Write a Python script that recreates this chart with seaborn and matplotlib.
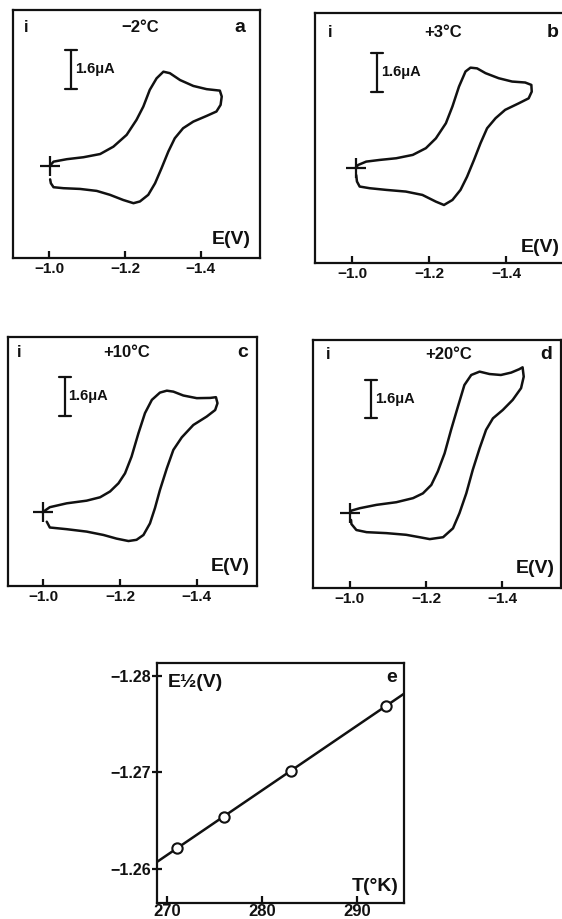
import numpy as np
import pandas as pd
import matplotlib
matplotlib.use("Agg")
import matplotlib.pyplot as plt
import matplotlib.transforms as mtransforms
import seaborn as sns

# ---- cyclic voltammograms: potential E (V) and current i (uA), traced as a closed sweep
E_a = [-1.002, -1.011, -1.046, -1.090, -1.134, -1.169, -1.204, -1.230, -1.248, -1.265,
       -1.283, -1.301, -1.318, -1.345, -1.380, -1.415, -1.450, -1.455, -1.452, -1.441,
       -1.415, -1.380, -1.353, -1.331, -1.314, -1.296, -1.279, -1.261, -1.239, -1.222,
       -1.195, -1.160, -1.125, -1.081, -1.037, -1.011, -1.004, -1.002]
i_a = [0.00, 0.16, 0.26, 0.34, 0.47, 0.77, 1.25, 1.86, 2.40, 3.08,
       3.55, 3.82, 3.76, 3.48, 3.24, 3.11, 3.05, 2.81, 2.47, 2.20,
       2.02, 1.79, 1.52, 1.11, 0.57, -0.11, -0.72, -1.19, -1.46, -1.53,
       -1.40, -1.19, -1.03, -0.95, -0.92, -0.88, -0.72, -0.56]

E_b = [-1.009, -1.015, -1.036, -1.071, -1.114, -1.157, -1.191, -1.217, -1.243, -1.260,
       -1.277, -1.294, -1.307, -1.324, -1.346, -1.380, -1.415, -1.449, -1.465, -1.466,
       -1.458, -1.432, -1.397, -1.372, -1.350, -1.333, -1.316, -1.298, -1.281, -1.260,
       -1.238, -1.217, -1.182, -1.139, -1.088, -1.045, -1.019, -1.012, -1.010]
i_b = [0.00, 0.11, 0.25, 0.32, 0.39, 0.53, 0.81, 1.22, 1.85, 2.55,
       3.38, 4.01, 4.17, 4.14, 3.94, 3.73, 3.59, 3.55, 3.45, 3.17,
       2.89, 2.68, 2.41, 2.06, 1.64, 1.02, 0.32, -0.38, -0.93, -1.35,
       -1.56, -1.42, -1.14, -1.00, -0.93, -0.86, -0.79, -0.58, -0.31]

E_c = [-0.998, -1.017, -1.061, -1.113, -1.148, -1.174, -1.196, -1.213, -1.230, -1.248,
       -1.265, -1.283, -1.304, -1.322, -1.339, -1.365, -1.400, -1.435, -1.450, -1.454,
       -1.448, -1.426, -1.391, -1.361, -1.339, -1.322, -1.304, -1.291, -1.278, -1.261,
       -1.243, -1.222, -1.191, -1.157, -1.113, -1.061, -1.017, -1.009]
i_c = [0.00, 0.21, 0.37, 0.48, 0.62, 0.86, 1.20, 1.61, 2.30, 3.27,
       4.10, 4.65, 4.95, 5.03, 4.99, 4.83, 4.72, 4.73, 4.76, 4.51,
       4.23, 3.96, 3.61, 3.10, 2.58, 1.82, 0.92, 0.17, -0.46, -0.94,
       -1.14, -1.19, -1.09, -0.94, -0.80, -0.70, -0.63, -0.39]

E_d = [-1.000, -1.004, -1.026, -1.070, -1.122, -1.166, -1.192, -1.214, -1.231, -1.249,
       -1.266, -1.284, -1.301, -1.319, -1.341, -1.367, -1.397, -1.424, -1.445, -1.454,
       -1.457, -1.450, -1.428, -1.402, -1.376, -1.358, -1.341, -1.323, -1.306, -1.288,
       -1.271, -1.245, -1.210, -1.183, -1.148, -1.096, -1.044, -1.017, -1.004, -1.003]
i_d = [0.00, 0.11, 0.21, 0.35, 0.46, 0.63, 0.83, 1.18, 1.74, 2.50,
       3.48, 4.45, 5.35, 5.77, 5.91, 5.81, 5.77, 5.87, 6.01, 6.09,
       5.70, 5.22, 4.73, 4.31, 3.96, 3.48, 2.71, 1.81, 0.83, 0.00,
       -0.63, -1.00, -1.08, -1.00, -0.90, -0.83, -0.79, -0.70, -0.45, -0.28]

temps = ["\u22122\u00b0C", "+3\u00b0C", "+10\u00b0C", "+20\u00b0C"]
letters = ["a", "b", "c", "d"]
start_E = [-1.002, -1.009, -0.998, -1.000]
scale_uA = 1.6
scale_top = [4.71, 4.77, 5.59, 5.56]
E_ticks = [-1.0, -1.2, -1.4]

# ---- half-wave potential versus temperature
T_K = [271, 276, 283, 293]
E_half = [-1.2622, -1.2654, -1.2701, -1.2769]
T_ticks = [270, 280, 290]
Eh_ticks = [-1.28, -1.27, -1.26]

sns.set_theme(style="ticks")
plt.rcParams["font.family"] = ["Liberation Sans", "DejaVu Sans"]
plt.rcParams["font.weight"] = "bold"
plt.rcParams["axes.linewidth"] = 1.6
plt.rcParams["axes.edgecolor"] = "#111111"
plt.rcParams["xtick.color"] = "#111111"
plt.rcParams["ytick.color"] = "#111111"

W, H = 562, 919
fig = plt.figure(figsize=(W / 100, H / 100), dpi=100, facecolor="white")


def box(l, t, r, b):
    return [l / W, (H - b) / H, (r - l) / W, (b - t) / H]


ink = "#111111"
cv_boxes = [box(13, 10, 260, 258), box(315, 13, 566, 263),
            box(8, 337, 257, 586), box(313, 340, 561, 588)]
cv_xlims = [(-0.904, -1.556), (-0.903, -1.555), (-0.908, -1.557), (-0.903, -1.555)]
cv_ylims = [(-3.76, 6.33), (-3.98, 6.45), (-3.05, 7.25), (-3.12, 7.23)]
txt_i = [(0.053, 0.93), (0.06, 0.924), (0.044, 0.936), (0.059, 0.94)]
txt_T = [0.514, 0.51, 0.477, 0.548]
txt_L = [0.92, 0.948, 0.942, 0.941]
txt_EV = [(0.885, 0.073), (0.896, 0.06), (0.892, 0.078), (0.895, 0.079)]
bar_x = [0.234, 0.246, 0.229, 0.235]
lab_x = [0.252, 0.263, 0.243, 0.252]

curves = [(E_a, i_a), (E_b, i_b), (E_c, i_c), (E_d, i_d)]
for k in range(4):
    ax = fig.add_axes(cv_boxes[k])
    df = pd.DataFrame({"E": curves[k][0], "i": curves[k][1]})
    sns.lineplot(data=df, x="E", y="i", sort=False, estimator=None, ax=ax,
                 color=ink, lw=1.8)
    ax.plot([start_E[k]], [0], marker="+", ms=14, mew=1.6, color=ink)
    ax.set_xlim(*cv_xlims[k])
    ax.set_ylim(*cv_ylims[k])
    ax.set_xticks(E_ticks)
    ax.set_xticklabels([f"\u2212{abs(v):.1f}" for v in E_ticks],
                       fontsize=11, fontweight="bold")
    ax.set_yticks([])
    ax.tick_params(axis="x", direction="in", length=5, width=1.6, pad=3)
    ax.set_xlabel("")
    ax.set_ylabel("")
    for s in ax.spines.values():
        s.set_visible(True)
    # current scale bar
    tr = mtransforms.blended_transform_factory(ax.transAxes, ax.transData)
    xb = bar_x[k]
    top = scale_top[k]
    bot = top - scale_uA
    ax.plot([xb, xb], [bot, top], transform=tr, color=ink, lw=1.6)
    ax.plot([xb - 0.024, xb + 0.024], [top, top], transform=tr, color=ink, lw=1.6)
    ax.plot([xb - 0.024, xb + 0.024], [bot, bot], transform=tr, color=ink, lw=1.6)
    ax.text(lab_x[k], (top + bot) / 2, "1.6\u03bcA", transform=tr, fontsize=10.5,
            fontweight="bold", ha="left", va="center", color=ink)
    ax.text(*txt_i[k], "i", transform=ax.transAxes, fontsize=12, fontweight="bold",
            ha="center", va="center", color=ink)
    ax.text(txt_T[k], txt_i[k][1], temps[k], transform=ax.transAxes, fontsize=12,
            fontweight="bold", ha="center", va="center", color=ink)
    ax.text(txt_L[k], txt_i[k][1], letters[k], transform=ax.transAxes, fontsize=14,
            fontweight="bold", ha="center", va="center", color=ink)
    ax.text(*txt_EV[k], "E(V)", transform=ax.transAxes, fontsize=14,
            fontweight="bold", ha="center", va="center", color=ink)

# ---- panel e
ax = fig.add_axes(box(157, 663, 404, 903))
ax.set_xlim(268.95, 294.9)
ax.set_ylim(-1.2565, -1.2813)
dfe = pd.DataFrame({"T": T_K, "E": E_half})
sns.regplot(data=dfe, x="T", y="E", ax=ax, ci=None, truncate=False,
            scatter_kws={"s": 55, "facecolors": "white", "edgecolors": ink,
                         "linewidths": 1.5, "zorder": 3, "alpha": 1},
            line_kws={"color": ink, "lw": 1.8, "zorder": 2})
ax.set_xlim(268.95, 294.9)
ax.set_ylim(-1.2565, -1.2813)
ax.set_xticks(T_ticks)
ax.set_xticklabels([str(v) for v in T_ticks], fontsize=12, fontweight="bold")
ax.set_yticks(Eh_ticks)
ax.set_yticklabels([f"\u2212{abs(v):.2f}" for v in Eh_ticks], fontsize=11.5,
                   fontweight="bold")
ax.tick_params(axis="x", direction="in", length=5, width=1.6, pad=1)
ax.tick_params(axis="y", direction="inout", length=7, width=1.6, pad=1)
ax.set_xlabel("")
ax.set_ylabel("")
ax.text(0.045, 0.917, "E\u00bd(V)", transform=ax.transAxes, fontsize=14,
        fontweight="bold", ha="left", va="center", color=ink)
ax.text(0.95, 0.9375, "e", transform=ax.transAxes, fontsize=14,
        fontweight="bold", ha="center", va="center", color=ink)
ax.text(0.883, 0.068, "T(\u00b0K)", transform=ax.transAxes, fontsize=14,
        fontweight="bold", ha="center", va="center", color=ink)

fig.savefig("out.png", dpi=100, facecolor="white")
